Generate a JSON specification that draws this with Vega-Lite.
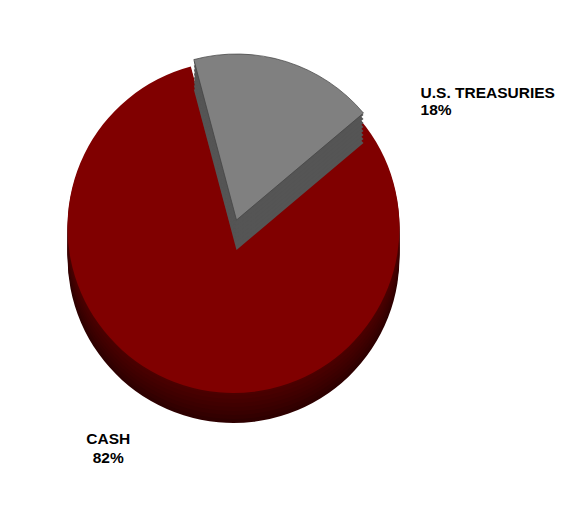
{
  "$schema": "https://vega.github.io/schema/vega-lite/v6.json",
  "autosize": {"type": "fit", "contains": "padding"},
  "width": 574,
  "height": 520,
  "padding": {"left": 0, "top": 0, "right": 72, "bottom": 66},
  "background": "white",
  "view": {"stroke": null},
  "data": {
    "values": [
      {"category": "U.S. TREASURIES", "share": 18},
      {"category": "CASH", "share": 82}
    ]
  },
  "transform": [
    {"stack": "share", "groupby": [], "sort": [{"field": "share", "order": "ascending"}], "as": ["s0", "s1"]},
    {"calculate": "[datum.category, datum.share + '%']", "as": "label"}
  ],
  "encoding": {
    "theta": {"field": "s0", "type": "quantitative", "scale": {"domain": [0, 100], "range": [-0.26, 6.0232]}}
  },
  "layer": [
    {
      "transform": [{"filter": "datum.category === 'CASH'"}],
      "encoding": {"theta2": {"field": "s1"}},
      "layer": [
        {"mark": {"type": "arc", "outerRadius": 166, "color": "#2e0000", "yOffset": 30}},
        {"mark": {"type": "arc", "outerRadius": 166, "color": "#330000", "yOffset": 26}},
        {"mark": {"type": "arc", "outerRadius": 166, "color": "#380000", "yOffset": 22}},
        {"mark": {"type": "arc", "outerRadius": 166, "color": "#3c0000", "yOffset": 18}},
        {"mark": {"type": "arc", "outerRadius": 166, "color": "#400000", "yOffset": 14}},
        {"mark": {"type": "arc", "outerRadius": 166, "color": "#440000", "yOffset": 10}},
        {"mark": {"type": "arc", "outerRadius": 166, "color": "#480000", "yOffset": 6}},
        {"mark": {"type": "arc", "outerRadius": 166, "color": "#4c0000", "yOffset": 2}},
        {"mark": {"type": "arc", "outerRadius": 166, "color": "#800000"}}
      ]
    },
    {
      "transform": [{"filter": "datum.category === 'U.S. TREASURIES'"}],
      "encoding": {"theta2": {"field": "s1"}},
      "layer": [
        {"mark": {"type": "arc", "outerRadius": 166, "color": "#555555", "xOffset": 3, "yOffset": 23}},
        {"mark": {"type": "arc", "outerRadius": 166, "color": "#555555", "xOffset": 3, "yOffset": 19}},
        {"mark": {"type": "arc", "outerRadius": 166, "color": "#555555", "xOffset": 3, "yOffset": 15}},
        {"mark": {"type": "arc", "outerRadius": 166, "color": "#555555", "xOffset": 3, "yOffset": 11}},
        {"mark": {"type": "arc", "outerRadius": 166, "color": "#555555", "xOffset": 3, "yOffset": 7}},
        {"mark": {"type": "arc", "outerRadius": 166, "color": "#555555", "xOffset": 3, "yOffset": 3}},
        {"mark": {"type": "arc", "outerRadius": 166, "color": "#555555", "xOffset": 3, "yOffset": -1}},
        {"mark": {"type": "arc", "outerRadius": 166, "color": "#555555", "xOffset": 3, "yOffset": -5}},
        {"mark": {"type": "arc", "outerRadius": 166, "color": "#808080", "stroke": "#404040", "strokeWidth": 0.7, "xOffset": 3, "yOffset": -7}}
      ]
    },
    {
      "transform": [{"filter": "datum.category === 'U.S. TREASURIES'"}],
      "mark": {"type": "text", "align": "left", "baseline": "middle", "font": "Liberation Sans", "fontWeight": "bold", "fontSize": 15.5, "lineHeight": 17, "color": "black", "thetaOffset": 1.21},
      "encoding": {
        "radius": {"value": 230},
        "text": {"field": "label"}
      }
    },
    {
      "transform": [{"filter": "datum.category === 'CASH'"}],
      "mark": {"type": "text", "align": "center", "baseline": "middle", "font": "Liberation Sans", "fontWeight": "bold", "fontSize": 15.5, "lineHeight": 19, "color": "black", "thetaOffset": 2.805},
      "encoding": {
        "radius": {"value": 246},
        "text": {"field": "label"}
      }
    }
  ]
}
